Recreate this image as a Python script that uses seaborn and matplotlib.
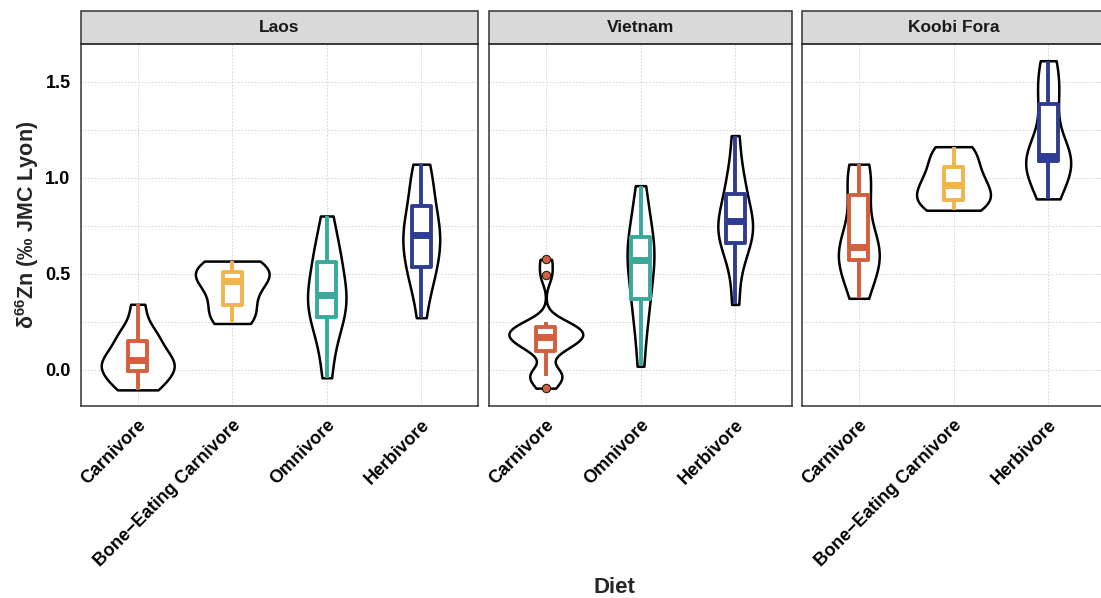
import numpy as np
import pandas as pd
import matplotlib
matplotlib.use("Agg")
import matplotlib.pyplot as plt
from matplotlib.patches import Rectangle
import seaborn as sns

# ---------------- data (δ66Zn values, per site and diet) ----------------
sites = ["Laos", "Vietnam", "Koobi Fora"]
laos_diets = ["Carnivore", "Bone\u2212Eating Carnivore", "Omnivore", "Herbivore"]
vietnam_diets = ["Carnivore", "Omnivore", "Herbivore"]
koobi_diets = ["Carnivore", "Bone\u2212Eating Carnivore", "Herbivore"]

laos_carnivore = [-0.106, -0.09, -0.05, -0.009, 0.0, 0.02, 0.05, 0.06, 0.09, 0.151, 0.17, 0.22, 0.34]
laos_bone_eating = [0.24, 0.28, 0.335, 0.40, 0.46, 0.48, 0.51, 0.545, 0.565]
laos_omnivore = [-0.043, 0.12, 0.21, 0.272, 0.31, 0.36, 0.39, 0.42, 0.49, 0.5625, 0.60, 0.68, 0.80]
laos_herbivore = [0.27, 0.45, 0.50, 0.533, 0.62, 0.67, 0.70, 0.72, 0.78, 0.854, 0.93, 1.02, 1.07]

vietnam_carnivore = [-0.097, -0.036, -0.03, -0.02, 0.099, 0.12, 0.14, 0.16, 0.172, 0.18, 0.19,
                     0.20, 0.224, 0.23, 0.246, 0.49, 0.574]
vietnam_omnivore = [0.017, 0.20, 0.30, 0.368, 0.45, 0.52, 0.57, 0.60, 0.65, 0.693, 0.76, 0.86, 0.958]
vietnam_herbivore = [0.339, 0.52, 0.62, 0.66, 0.70, 0.73, 0.776, 0.79, 0.84, 0.915, 0.97, 1.06, 1.219]

koobi_carnivore = [0.371, 0.51, 0.571, 0.61, 0.64, 0.67, 0.911, 1.00, 1.07]
koobi_bone_eating = [0.83, 0.86, 0.884, 0.92, 0.964, 1.00, 1.054, 1.12, 1.161]
koobi_herbivore = [0.889, 1.00, 1.085, 1.10, 1.11, 1.12, 1.383, 1.48, 1.609]

diet_colors = {
    "Carnivore": "#D35F3C",
    "Bone\u2212Eating Carnivore": "#F1B44C",
    "Omnivore": "#38A99B",
    "Herbivore": "#2F3C91",
}

y_ticks = [0.0, 0.5, 1.0, 1.5]
y_minor = [0.25, 0.75, 1.25]

# ---------------- build long table ----------------
groups = [
    ("Laos", "Carnivore", laos_carnivore),
    ("Laos", "Bone\u2212Eating Carnivore", laos_bone_eating),
    ("Laos", "Omnivore", laos_omnivore),
    ("Laos", "Herbivore", laos_herbivore),
    ("Vietnam", "Carnivore", vietnam_carnivore),
    ("Vietnam", "Omnivore", vietnam_omnivore),
    ("Vietnam", "Herbivore", vietnam_herbivore),
    ("Koobi Fora", "Carnivore", koobi_carnivore),
    ("Koobi Fora", "Bone\u2212Eating Carnivore", koobi_bone_eating),
    ("Koobi Fora", "Herbivore", koobi_herbivore),
]
rows = []
for site, diet, vals in groups:
    for v in vals:
        rows.append({"site": site, "diet": diet, "zn": v})
df = pd.DataFrame(rows)
site_orders = {"Laos": laos_diets, "Vietnam": vietnam_diets, "Koobi Fora": koobi_diets}


def nrd0(kde):
    # R's default bandwidth (bw.nrd0) expressed as a gaussian_kde factor
    x = np.asarray(kde.dataset[0])
    n = x.size
    sd = np.std(x, ddof=1)
    q75, q25 = np.percentile(x, [75, 25])
    lo = min(sd, (q75 - q25) / 1.34)
    if lo <= 0:
        lo = sd
    h = 0.9 * lo * n ** -0.2
    return h / sd


# ---------------- style ----------------
sns.set_theme(style="white")
plt.rcParams["font.family"] = ["Liberation Sans", "DejaVu Sans"]
plt.rcParams["mathtext.fontset"] = "custom"
plt.rcParams["mathtext.rm"] = "Liberation Sans:bold"
plt.rcParams["mathtext.bf"] = "Liberation Sans:bold"
plt.rcParams["mathtext.default"] = "rm"

W, H = 1101, 598
fig = plt.figure(figsize=(W / 100, H / 100), dpi=100)

panel_top, panel_bottom = 44, 406
panels_px = {"Laos": (81, 478), "Vietnam": (489, 792), "Koobi Fora": (802, 1105)}
strip_h = 33

ylim = (-0.19, 1.696)

for i, site in enumerate(sites):
    x0, x1 = panels_px[site]
    ax = fig.add_axes([x0 / W, (H - panel_bottom) / H, (x1 - x0) / W, (panel_bottom - panel_top) / H])
    sub = df[df["site"] == site]
    order = site_orders[site]
    n = len(order)

    sns.violinplot(data=sub, x="diet", y="zn", order=order, color="white", saturation=1,
                   linecolor="black", linewidth=1.8, inner=None, cut=0,
                   density_norm="area", width=0.78, bw_method=nrd0, gridsize=512, ax=ax)
    sns.boxplot(data=sub, x="diet", y="zn", order=order, hue="diet", hue_order=order,
                palette=diet_colors, fill=False, width=0.2, linewidth=2.8, showcaps=False,
                whis=1.5, legend=False,
                medianprops=dict(linewidth=5),
                flierprops=dict(marker="o", markerfacecolor=diet_colors["Carnivore"],
                                markeredgecolor="#222222", markersize=6, markeredgewidth=0.8),
                ax=ax)

    ax.set_xlim(-0.6, n - 1 + 0.6)
    ax.set_ylim(*ylim)
    ax.set_yticks(y_ticks)
    ax.set_yticks(y_minor, minor=True)
    ax.set_yticklabels([f"{t:.1f}" for t in y_ticks])
    ax.set_axisbelow(True)
    ax.yaxis.grid(True, which="both", color="#CFCFCF", linestyle=(0, (2, 2)), linewidth=0.6)
    ax.xaxis.grid(True, which="major", color="#CFCFCF", linestyle=(0, (2, 2)), linewidth=0.6)
    ax.tick_params(which="minor", length=0)
    ax.tick_params(axis="both", which="major", direction="out", length=4, width=1.1,
                   color="#333333", labelsize=13, labelcolor="black")
    for lab in ax.get_yticklabels():
        lab.set_fontweight("bold")
    ax.set_xticks(range(n))
    ax.set_xticklabels(order, rotation=45, ha="right", va="top", rotation_mode="anchor",
                       fontweight="bold", fontsize=13)
    ax.set_xlabel("")
    ax.set_ylabel("")
    if i > 0:
        ax.tick_params(axis="y", left=False, labelleft=False)
    for s in ax.spines.values():
        s.set_visible(True)
        s.set_color("#333333")
        s.set_linewidth(1.1)

    # facet strip
    sh = strip_h / (panel_bottom - panel_top)
    ax.add_patch(Rectangle((0, 1), 1, sh, transform=ax.transAxes, clip_on=False,
                           facecolor="#D9D9D9", edgecolor="#333333", linewidth=1.1))
    ax.text(0.5, 1 + sh / 2, site, transform=ax.transAxes, ha="center", va="center",
            fontsize=12.5, fontweight="bold", color="#1A1A1A")

fig.text(614 / W, 0.0, "Diet", ha="center", va="bottom", fontsize=16, fontweight="bold")
fig.text(27 / W, 1 - 225 / H, "δ$^{66}$Zn (‰ JMC Lyon)", rotation=90, ha="center", va="center",
         fontsize=15.5, fontweight="bold")

fig.savefig("out.png", dpi=100)
